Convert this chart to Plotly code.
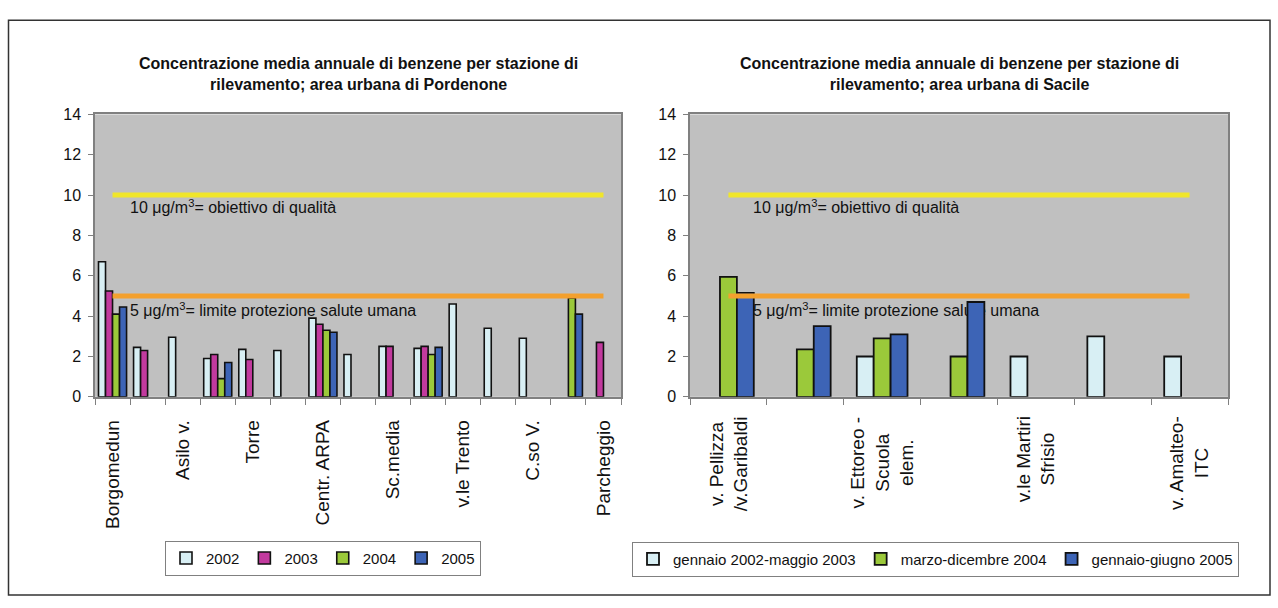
import plotly.graph_objects as go

# ---------------- data ----------------
left_title = "Concentrazione media annuale di benzene per stazione di<br>rilevamento; area urbana di Pordenone"
right_title = "Concentrazione media annuale di benzene per stazione di<br>rilevamento; area urbana di Sacile"

left_stations = ["Borgomedun", None, "Asilo v.", None, "Torre", None, "Centr. ARPA", None,
                 "Sc.media", None, "v.le Trento", None, "C.so V.", None, "Parcheggio"]
left_years = ["2002", "2003", "2004", "2005"]
val_2002 = [6.7, 2.45, 2.95, 1.9, 2.35, 2.3, 3.9, 2.1, 2.5, 2.4, 4.6, 3.4, 2.9, None, None]
val_2003 = [5.25, 2.3, None, 2.1, 1.85, None, 3.6, None, 2.5, 2.5, None, None, None, None, 2.7]
val_2004 = [4.1, None, None, 0.9, None, None, 3.3, None, None, 2.1, None, None, None, 4.9, None]
val_2005 = [4.45, None, None, 1.7, None, None, 3.2, None, None, 2.45, None, None, None, 4.1, None]

right_stations = ["v. Pellizza<br>/v.Garibaldi", None, "v. Ettoreo -<br>Scuola<br>elem.", None,
                  "v.le Martiri<br>Sfrisio", None, "v. Amalteo-<br>ITC"]
right_periods = ["gennaio 2002-maggio 2003", "marzo-dicembre 2004", "gennaio-giugno 2005"]
val_p1 = [None, None, 2.0, None, 2.0, 3.0, 2.0]
val_p2 = [5.95, 2.35, 2.9, 2.0, None, None, None]
val_p3 = [5.15, 3.5, 3.1, 4.7, None, None, None]

quality_goal = 10
health_limit = 5
goal_text = "10 μg/m<sup>3</sup>= obiettivo di qualità"
limit_text = "5 μg/m<sup>3</sup>= limite protezione salute umana"

y_ticks = [0, 2, 4, 6, 8, 10, 12, 14]

# ---------------- style ----------------
W, H = 1278, 608
FONT = "Liberation Sans, Arial, sans-serif"
C_LIGHT = "#d8eff4"
C_MAG = "#c23a9e"
C_GREEN = "#9bc93a"
C_BLUE = "#3d64b6"
C_YELLOW = "#f0e62a"
C_ORANGE = "#f3a02e"
PLOT_BG = "#c0c0c0"
AX = "#808080"

def px_x(p):
    return p / W

def px_y(p):
    return 1 - p / H

LX0, LX1 = 95, 621
RX0, RX1 = 690, 1228
Y0, Y1 = 400, 109.5
left_dom = [px_x(LX0), px_x(LX1)]
right_dom = [px_x(RX0), px_x(RX1)]
y_dom = [px_y(Y0), px_y(Y1)]

fig = go.Figure()

lx = list(range(len(left_stations)))
rx = list(range(len(right_stations)))

left_series = [val_2002, val_2003, val_2004, val_2005]
left_colors = [C_LIGHT, C_MAG, C_GREEN, C_BLUE]
lw = 0.2
for k, (name, vals, col) in enumerate(zip(left_years, left_series, left_colors)):
    fig.add_trace(go.Bar(
        x=lx, y=vals, name=name, xaxis="x", yaxis="y",
        width=lw, offset=-0.4 + k * lw,
        marker=dict(color=col, line=dict(color="#111111", width=1.6)),
        legend="legend",
    ))

right_series = [val_p1, val_p2, val_p3]
right_colors = [C_LIGHT, C_GREEN, C_BLUE]
rw = 0.22
for k, (name, vals, col) in enumerate(zip(right_periods, right_series, right_colors)):
    fig.add_trace(go.Bar(
        x=rx, y=vals, name=name, xaxis="x2", yaxis="y2",
        width=rw, offset=-0.33 + k * rw,
        marker=dict(color=col, line=dict(color="#111111", width=1.8)),
        legend="legend2",
    ))

# reference lines (line series across categories)
for xs, xa, ya in [(lx, "x", "y"), (rx, "x2", "y2")]:
    fig.add_trace(go.Scatter(x=[xs[0], xs[-1]], y=[quality_goal, quality_goal], mode="lines",
                             line=dict(color=C_YELLOW, width=5), xaxis=xa, yaxis=ya,
                             showlegend=False, hoverinfo="skip"))
    fig.add_trace(go.Scatter(x=[xs[0], xs[-1]], y=[health_limit, health_limit], mode="lines",
                             line=dict(color=C_ORANGE, width=5), xaxis=xa, yaxis=ya,
                             showlegend=False, hoverinfo="skip"))

tick_font = dict(family=FONT, size=16, color="#111111")
xlab_font = dict(family=FONT, size=19, color="#111111")
leg_font = dict(family=FONT, size=15, color="#111111")
note_font = dict(family=FONT, size=16, color="#111111")

def yaxis_cfg(dom_anchor):
    return dict(domain=y_dom, range=[0, 14], tickvals=y_ticks, ticks="outside", ticklen=5,
                tickcolor=AX, showline=True, linecolor=AX, linewidth=1.5, mirror=True,
                showgrid=False, zeroline=False, tickfont=tick_font, anchor=dom_anchor,
                ticklabelstandoff=4)

left_tv = [i for i, s in enumerate(left_stations) if s]
left_tt = [s for s in left_stations if s]

fig.update_layout(
    width=W, height=H,
    margin=dict(l=0, r=0, t=0, b=0),
    paper_bgcolor="white",
    plot_bgcolor=PLOT_BG,
    barmode="overlay",
    font=dict(family=FONT, color="#111111"),
    xaxis=dict(domain=left_dom, range=[-0.5, len(lx) - 0.5], anchor="y",
               tickvals=left_tv, ticktext=left_tt, tickangle=-90, ticks="",
               tickfont=xlab_font, ticklabelstandoff=14,
               minor=dict(tick0=-0.5, dtick=1, ticks="outside", ticklen=6, tickcolor=AX),
               showline=True, linecolor=AX, linewidth=1.5, mirror=True,
               showgrid=False, zeroline=False),
    yaxis=yaxis_cfg("x"),
    xaxis2=dict(domain=right_dom, range=[-0.5, len(rx) - 0.5], anchor="y2",
                showticklabels=False, ticks="",
                minor=dict(tick0=-0.5, dtick=1, ticks="outside", ticklen=6, tickcolor=AX),
                showline=True, linecolor=AX, linewidth=1.5, mirror=True,
                showgrid=False, zeroline=False),
    yaxis2=yaxis_cfg("x2"),
    legend=dict(orientation="h", x=px_x(165), y=px_y(548), xanchor="left", yanchor="top",
                bordercolor=AX, borderwidth=1, bgcolor="white",
                font=leg_font, itemwidth=30),
    legend2=dict(orientation="h", x=px_x(632), y=px_y(549), xanchor="left", yanchor="top",
                 bordercolor=AX, borderwidth=1, bgcolor="white",
                 font=leg_font, itemwidth=30),
    showlegend=True,
)

ann = []
# titles
for dom, title in ((left_dom, left_title), (right_dom, right_title)):
    ann.append(dict(text="<b>" + title + "</b>", xref="paper", yref="paper",
                    x=(dom[0] + dom[1]) / 2, y=px_y(67.5), xanchor="center", yanchor="middle",
                    showarrow=False, font=dict(family=FONT, size=16, color="#111111")))
# right category labels (centred multi-line, rotated)
for i, s in enumerate(right_stations):
    if s:
        ann.append(dict(text=s, xref="x2", yref="paper", x=i, y=px_y(418),
                        xanchor="center", yanchor="top", textangle=-90, align="center",
                        showarrow=False, font=xlab_font))
fig.update_layout(annotations=ann)

# reference-line notes: drawn beneath the bars (as in the original, bars cover them)
px_per_unit = (Y0 - Y1) / 14.0
for (xr, yr, x0, x1, start) in (("x domain", "y", LX0, LX1, 127), ("x2 domain", "y2", RX0, RX1, 750)):
    dstart = (start - x0) / (x1 - x0)
    for txt, ypx in ((goal_text, 205), (limit_text, 311)):
        yv = (Y0 - ypx) / px_per_unit
        fig.add_shape(type="rect", xref=xr, yref=yr, x0=dstart, x1=0.98,
                      y0=yv - 0.4, y1=yv + 0.4, layer="below",
                      line=dict(width=0), fillcolor="rgba(0,0,0,0)",
                      label=dict(text=txt, textposition="middle left", padding=0,
                                 font=note_font))

# outer frame
fig.add_shape(type="rect", xref="paper", yref="paper", x0=px_x(8.5), x1=px_x(1270),
              y0=px_y(604), y1=px_y(12.7), line=dict(color="#333333", width=1.5))

fig.write_html("out.html", config={"displayModeBar": False},
               post_script="document.body.style.margin='0';document.body.style.overflow='hidden';")
